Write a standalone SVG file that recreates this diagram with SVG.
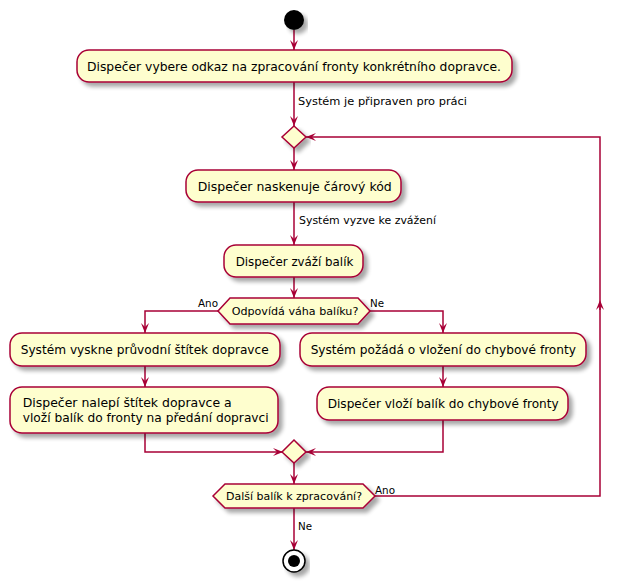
<svg xmlns="http://www.w3.org/2000/svg" width="625" height="582" viewBox="0 0 625 582">
<defs>
<filter id="sh" x="-10%" y="-10%" width="130%" height="150%">
<feGaussianBlur in="SourceAlpha" stdDeviation="2"/>
<feOffset dx="4" dy="4" result="b"/>
<feComponentTransfer><feFuncA type="linear" slope="0.35"/></feComponentTransfer>
<feMerge><feMergeNode/><feMergeNode in="SourceGraphic"/></feMerge>
</filter>
<marker id="ah" viewBox="0 0 10 8" refX="10" refY="4" markerWidth="10" markerHeight="8" markerUnits="userSpaceOnUse" orient="auto">
<path d="M0,0 L10,4 L0,8 L4,4 Z" fill="#A80036"/>
</marker>
</defs>
<style>
.box{fill:#FEFECE;stroke:#A80036;stroke-width:1.5}
.t{font-family:"DejaVu Sans",sans-serif;font-size:12.3px;fill:#000}
.s{font-family:"DejaVu Sans",sans-serif;font-size:11.3px;fill:#000}
.c{fill:none;stroke:#A80036;stroke-width:1.5}
.m{text-anchor:middle}
</style>
<rect width="625" height="582" fill="#fff"/>
<g id="connectors">
<path class="c" d="M294,30 V50" marker-end="url(#ah)"/>
<path class="c" d="M294,82 V126" marker-end="url(#ah)"/>
<text class="s" x="298" y="105" textLength="169" lengthAdjust="spacingAndGlyphs">Systém je připraven pro práci</text>
<path class="c" d="M294,148 V170" marker-end="url(#ah)"/>
<path class="c" d="M294,202 V245" marker-end="url(#ah)"/>
<text class="s" x="299" y="224" textLength="137" lengthAdjust="spacingAndGlyphs">Systém vyzve ke zvážení</text>
<path class="c" d="M294,277 V298" marker-end="url(#ah)"/>
<path class="c" d="M218,311 H145 V333" marker-end="url(#ah)"/>
<text class="s" x="198" y="307" textLength="20" lengthAdjust="spacingAndGlyphs">Ano</text>
<path class="c" d="M370,311 H443 V333" marker-end="url(#ah)"/>
<text class="s" x="370" y="307" textLength="14" lengthAdjust="spacingAndGlyphs">Ne</text>
<path class="c" d="M145,366 V387" marker-end="url(#ah)"/>
<path class="c" d="M443,366 V387" marker-end="url(#ah)"/>
<path class="c" d="M145,433 V452 H283" marker-end="url(#ah)"/>
<path class="c" d="M443,420 V452 H306" marker-end="url(#ah)"/>
<path class="c" d="M294,463 V484" marker-end="url(#ah)"/>
<path class="c" d="M375,496 H600 V302"/>
<path class="c" d="M600,310 V300" marker-end="url(#ah)"/>
<path class="c" d="M600,300 V137 H306" marker-end="url(#ah)"/>
<text class="s" x="375" y="494" textLength="20" lengthAdjust="spacingAndGlyphs">Ano</text>
<path class="c" d="M294,508 V550" marker-end="url(#ah)"/>
<text class="s" x="298" y="530" textLength="14" lengthAdjust="spacingAndGlyphs">Ne</text>
</g>
<g id="start"><circle cx="294" cy="20" r="10" fill="#000" filter="url(#sh)"/></g>
<g id="n1"><rect class="box" x="77" y="50" width="435" height="32" rx="12" filter="url(#sh)"/>
<text class="t m" x="294" y="71" textLength="414" lengthAdjust="spacingAndGlyphs">Dispečer vybere odkaz na zpracování fronty konkrétního dopravce.</text></g>
<g id="d1"><polygon class="box" points="294,126 306,137 294,148 282,137" filter="url(#sh)"/></g>
<g id="n2"><rect class="box" x="186" y="170" width="215" height="32" rx="12" filter="url(#sh)"/>
<text class="t m" x="294.7" y="191" textLength="194" lengthAdjust="spacingAndGlyphs">Dispečer naskenuje čárový kód</text></g>
<g id="n3"><rect class="box" x="224" y="245" width="139" height="32" rx="12" filter="url(#sh)"/>
<text class="t m" x="294.5" y="266" textLength="117.6" lengthAdjust="spacingAndGlyphs">Dispečer zváží balík</text></g>
<g id="d2"><polygon class="box" points="218,311 230,298 358,298 370,311 358,324 230,324" filter="url(#sh)"/>
<text class="s m" x="295" y="315" textLength="126.7" lengthAdjust="spacingAndGlyphs">Odpovídá váha balíku?</text></g>
<g id="n4"><rect class="box" x="10" y="333" width="270" height="33" rx="12" filter="url(#sh)"/>
<text class="t m" x="144.7" y="354" textLength="248" lengthAdjust="spacingAndGlyphs">Systém vyskne průvodní štítek dopravce</text></g>
<g id="n5"><rect class="box" x="10" y="387" width="268" height="46" rx="12" filter="url(#sh)"/>
<text class="t" x="22.7" y="407" textLength="209" lengthAdjust="spacingAndGlyphs">Dispečer nalepí štítek dopravce a</text>
<text class="t" x="22.7" y="422" textLength="246" lengthAdjust="spacingAndGlyphs">vloží balík do fronty na předání dopravci</text></g>
<g id="n6"><rect class="box" x="300" y="333" width="286" height="33" rx="12" filter="url(#sh)"/>
<text class="t m" x="443.3" y="354" textLength="265.3" lengthAdjust="spacingAndGlyphs">Systém požádá o vložení do chybové fronty</text></g>
<g id="n7"><rect class="box" x="317" y="387" width="251" height="33" rx="12" filter="url(#sh)"/>
<text class="t m" x="443.2" y="408" textLength="231" lengthAdjust="spacingAndGlyphs">Dispečer vloží balík do chybové fronty</text></g>
<g id="d3"><polygon class="box" points="294,440 306,452 294,463 282,452" filter="url(#sh)"/></g>
<g id="d4"><polygon class="box" points="213,496 225,484 363,484 375,496 363,508 225,508" filter="url(#sh)"/>
<text class="s m" x="294" y="500" textLength="136" lengthAdjust="spacingAndGlyphs">Další balík k zpracování?</text></g>
<g id="end"><circle cx="294" cy="561" r="11" fill="#fff" stroke="#000" stroke-width="1.5" filter="url(#sh)"/>
<circle cx="294" cy="561" r="6" fill="#000"/></g>
</svg>
